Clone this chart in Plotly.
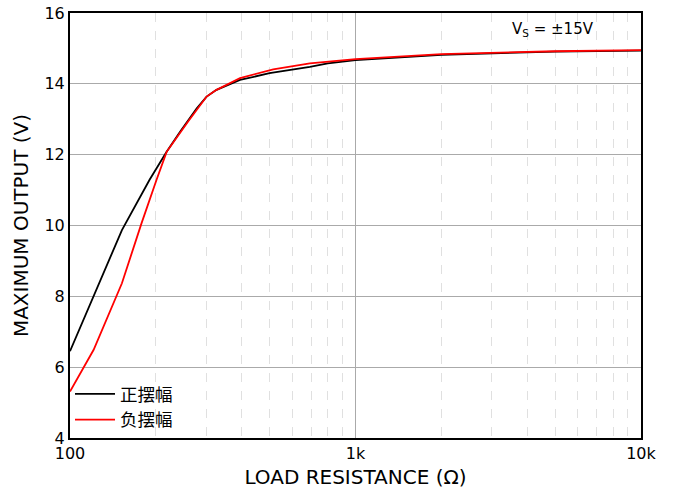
import plotly.graph_objects as go

# Data
pos_r = [100, 152, 190, 218, 243, 278, 301, 326, 394, 500, 692, 800, 1000, 2000, 5000, 10000]
pos_v = [6.45, 9.87, 11.29, 12.08, 12.65, 13.31, 13.64, 13.83, 14.11, 14.30, 14.48, 14.58, 14.67, 14.82, 14.91, 14.94]
neg_r = [100, 121, 152, 178, 201, 218, 260, 301, 326, 394, 515, 692, 1000, 2000, 5000, 10000]
neg_v = [5.31, 6.49, 8.37, 10.06, 11.29, 12.08, 12.95, 13.64, 13.83, 14.16, 14.41, 14.58, 14.70, 14.84, 14.92, 14.95]
legend_names = ["正摆幅", "负摆幅"]
x_ticks = [100, 1000, 10000]
x_tick_text = ["100", "1k", "10k"]
y_ticks = [4, 6, 8, 10, 12, 14, 16]

FONT = "DejaVu Sans, Noto Sans CJK SC"

fig = go.Figure()
fig.add_trace(go.Scatter(x=pos_r, y=pos_v, mode="lines", name=legend_names[0],
                         line=dict(color="black", width=1.8)))
fig.add_trace(go.Scatter(x=neg_r, y=neg_v, mode="lines", name=legend_names[1],
                         line=dict(color="#ff0000", width=1.8)))

fig.update_layout(
    width=675, height=497,
    margin=dict(l=70, r=34, t=13, b=59),
    paper_bgcolor="white", plot_bgcolor="white",
    font=dict(family=FONT, size=16, color="black"),
    showlegend=True,
    legend=dict(x=0.0, y=0.0, xanchor="left", yanchor="bottom",
                bgcolor="rgba(0,0,0,0)", font=dict(size=17.5, family="Noto Sans CJK SC"),
                tracegroupgap=0, itemwidth=40),
    xaxis=dict(type="log", range=[2, 4], tickvals=x_ticks, ticktext=x_tick_text,
               showgrid=True, gridcolor="#aaaaaa", gridwidth=1,
               minor=dict(dtick="D1", showgrid=True, griddash="dash", gridcolor="#e0e0e0", gridwidth=1, ticks=""),
               showline=True, linecolor="black", linewidth=2, mirror=True,
               ticks="", zeroline=False, automargin=False,
               title=dict(text="LOAD RESISTANCE (Ω)", font=dict(size=20), standoff=8)),
    yaxis=dict(range=[4, 16], tickvals=y_ticks,
               showgrid=True, gridcolor="#aaaaaa", gridwidth=1,
               showline=True, linecolor="black", linewidth=2, mirror=True,
               ticks="", zeroline=False, automargin=False,
               title=dict(text="MAXIMUM OUTPUT (V)", font=dict(size=20), standoff=10)),
    annotations=[dict(text="V<sub>S</sub> = ±15V", xref="paper", yref="paper",
                      x=0.922, y=0.988, xanchor="right", yanchor="top",
                      showarrow=False, font=dict(size=15))],
)

fig.write_html("out.html")
